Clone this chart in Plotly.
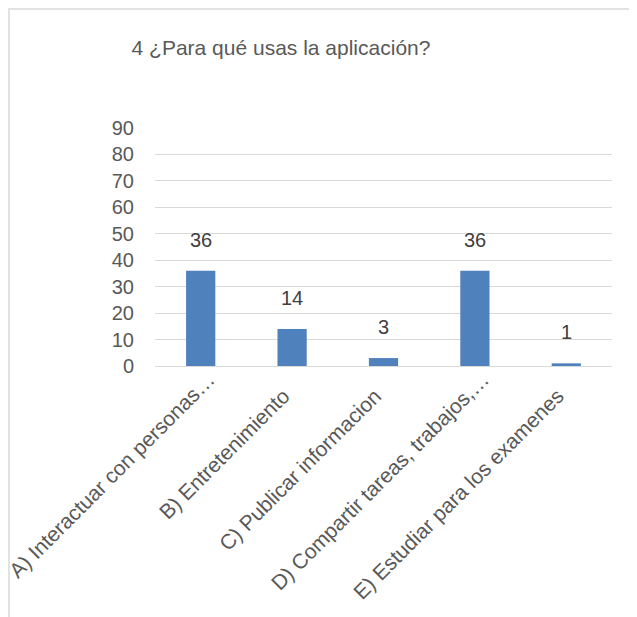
import plotly.graph_objects as go

categories = [
    "A) Interactuar con personas…",
    "B) Entretenimiento",
    "C) Publicar informacion",
    "D) Compartir tareas, trabajos,…",
    "E) Estudiar para los examenes",
]
values = [36, 14, 3, 36, 1]
y_ticks = [0, 10, 20, 30, 40, 50, 60, 70, 80, 90]
title_text = "4 ¿Para qué usas la aplicación?"

FONT = "Liberation Sans"
GREY = "#595959"
OFF = 8  # page offset of the figure

W, H = 637, 617
L = 155 - OFF
T = 128 - OFF
R = W - (612 - OFF)
B = H - (366 - OFF)
pw, ph = W - L - R, H - T - B

# Excel pushes untruncated labels slightly down-left: emulate with padding
pad = "\u00a0" * 4
tick_text = [c if c.endswith("…") else c + pad for c in categories]

fig = go.Figure()
fig.add_trace(go.Bar(
    x=categories, y=values,
    marker=dict(color="#4F81BD", line=dict(width=0)),
    width=0.32,
    hoverinfo="x+y",
))

for c, v in zip(categories, values):
    fig.add_annotation(x=c, y=v, text=str(v), showarrow=False,
                       yanchor="bottom", yshift=18,
                       font=dict(family=FONT, size=20, color="#404040"))

# outer frame (light grey border)
fig.add_shape(type="rect", xref="paper", yref="paper",
              x0=(1 - L) / pw, x1=(W + 20 - L) / pw,
              y0=-(H + 20 - (H - B)) / ph,
              y1=(H - B - 1) / ph,
              line=dict(color="#d9d9d9", width=1.5), layer="below")

fig.update_layout(
    width=W, height=H,
    margin=dict(l=L, r=R, t=T, b=B, autoexpand=False),
    paper_bgcolor="white", plot_bgcolor="white",
    showlegend=False,
    title=dict(text=title_text, x=(281 - OFF) / W, xanchor="center",
               y=1 - (48 - OFF) / H, yanchor="middle", yref="container",
               font=dict(family=FONT, size=21, color=GREY)),
    font=dict(family=FONT, color=GREY),
)
fig.update_yaxes(range=[0, 90], tickvals=y_ticks, showgrid=True,
                 gridcolor="#d9d9d9", gridwidth=1, zeroline=False,
                 showline=False, ticks="", ticklabelstandoff=20,
                 automargin=False,
                 tickfont=dict(family=FONT, size=20, color=GREY))
fig.update_xaxes(showline=True, linecolor="#d9d9d9", linewidth=1,
                 ticks="", tickangle=-45, automargin=False,
                 tickvals=categories, ticktext=tick_text,
                 ticklabelshift=8, ticklabelstandoff=-8,
                 tickfont=dict(family=FONT, size=21, color=GREY))

fig.write_html("out.html")
